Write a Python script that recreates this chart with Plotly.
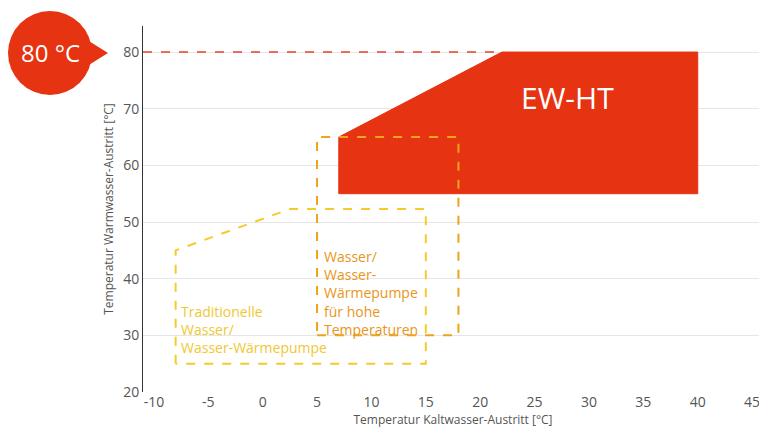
import plotly.graph_objects as go

ew_x = [7, 22, 40, 40, 7, 7]
ew_y = [65, 80, 80, 55, 55, 65]
hp_x = [5, 18, 18, 5, 5]
hp_y = [30, 30, 65, 65, 30]
tr_x = [-8, -8, 2.5, 15, 15, -8]
tr_y = [25, 45, 52.3, 52.3, 25, 25]
line80_x = [-11, 22]
line80_y = [80, 80]
xticks = [-10, -5, 0, 5, 10, 15, 20, 25, 30, 35, 40, 45]
xticktext = ["-10", "-5", "0", "5", "10", "15", "20", "25", "30", "35", "40", "45"]
yticks = [20, 30, 40, 50, 60, 70, 80]

fig = go.Figure()
fig.add_trace(go.Scatter(x=line80_x, y=line80_y, mode="lines",
                         line=dict(color="#e5432a", width=1.5, dash="dash")))
fig.add_trace(go.Scatter(x=ew_x, y=ew_y, mode="lines", fill="toself",
                         fillcolor="#e63312", line=dict(color="#e63312", width=1)))
fig.add_trace(go.Scatter(x=tr_x, y=tr_y, mode="lines",
                         line=dict(color="#f3cc2c", width=2, dash="dash")))
fig.add_trace(go.Scatter(x=hp_x, y=hp_y, mode="lines",
                         line=dict(color="#eea31c", width=2, dash="dash")))

fig.add_annotation(x=28, y=72, text="EW-HT", showarrow=False,
                   font=dict(color="white", size=30, family="Open Sans"))
fig.add_annotation(x=5.5, y=37.5, xanchor="left", align="left", showarrow=False,
                   text="Wasser/<br>Wasser-<br>Wärmepumpe<br>für hohe<br>Temperaturen",
                   font=dict(color="#e8961a", size=14, family="Open Sans"))
fig.add_annotation(x=-7.7, y=31, xanchor="left", align="left", showarrow=False,
                   text="Traditionelle<br>Wasser/<br>Wasser-Wärmepumpe",
                   font=dict(color="#f0c832", size=14, family="Open Sans"))

# badge
W, H = 620, 366
def px(x): return (x - 135) / W
def py(y): return (384 - y) / H
fig.add_shape(type="path", xref="paper", yref="paper",
              path=f"M {px(60)} {py(20)} L {px(100)} {py(45)} L {px(60)} {py(70)} Z",
              fillcolor="#e63312", line=dict(width=0))
fig.add_shape(type="circle", xref="paper", yref="paper",
              x0=px(0), x1=px(84), y0=py(87), y1=py(3),
              fillcolor="#e63312", line=dict(width=0))
fig.add_annotation(xref="paper", yref="paper", x=px(42), y=py(45), text="80 °C",
                   xanchor="center", yanchor="middle",
                   showarrow=False, font=dict(color="white", size=24, family="Open Sans"))

fig.update_layout(
    width=767, height=446, showlegend=False,
    margin=dict(l=135, r=12, t=18, b=62, autoexpand=False),
    plot_bgcolor="white", paper_bgcolor="white",
    font=dict(family="Open Sans", color="#555"),
    xaxis=dict(range=[-11, 46], tickvals=xticks, ticktext=xticktext, showgrid=False, zeroline=False,
               showline=False, tickfont=dict(size=14, color="#555"), automargin=False,
               title=dict(text="Temperatur Kaltwasser-Austritt [°C]", font=dict(size=12), standoff=4)),
    yaxis=dict(range=[20, 84.6], tickvals=yticks, showgrid=True, gridcolor="#e6e6e6",
               zeroline=False, showline=True, linecolor="#333", linewidth=1, automargin=False,
               tickfont=dict(size=14, color="#555"), ticks="outside", ticklen=0,
               title=dict(text="Temperatur Warmwasser-Austritt [°C]", font=dict(size=12), standoff=6)),
)
fig.write_html("out.html")
